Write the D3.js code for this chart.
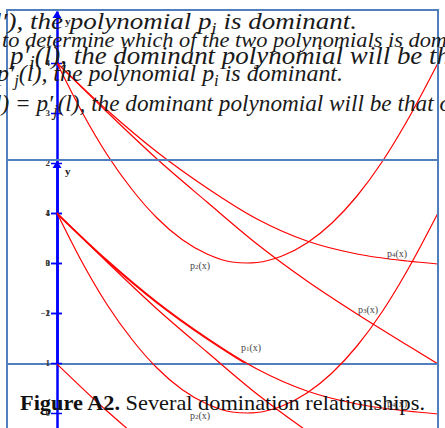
<!DOCTYPE html>
<html>
<head>
<meta charset="utf-8">
<script src="https://cdn.jsdelivr.net/npm/d3@7"></script>
<style>
  body { margin: 0; background: #fff; }
  svg { display: block; }
</style>
</head>
<body>
<script>
// values (x along the curves, y = polynomial value)
const xKnots = [0, 1, 2, 3, 4, 5, 6, 7, 7.62];
const p1Vals = [0.98, 0.04, -0.80, -1.52, -2.14, -2.58, -2.84, -2.98, -3.04];
const p3Vals = [4, 3.02, 2.08, 1.22, 0.38, -0.36, -1.02, -1.64, -2.02];
const p4Vals = [4, 3.06, 2.22, 1.50, 0.88, 0.44, 0.18, 0.04, -0.02];
const p2X = [0, 0.5, 1, 1.5, 2, 2.5, 3, 3.5, 3.8, 4, 4.5, 5, 5.5, 6, 6.5, 7, 7.62];
const p2Vals = [4, 3.02, 2.17, 1.47, 0.90, 0.47, 0.18, 0.02, 0, 0.01, 0.14, 0.40, 0.80, 1.34, 2.02, 2.84, 4.0];

const curveIds = ["1", "2", "3", "4"];
const labelX = [3.88, 2.86, 6.22, 6.8];
const labelY = [-1.76, -0.12, -1.0, 0.12];
const yTicks = [4, 3, 2, 1, 0, -1];

// text lying over the figure (segments: [text, subscript?])
const noteLines = [
  [["l′), the polynomial  p", 0], ["i", 1], ["  is dominant.", 0]],
  [["to determine which of the two polynomials is dom", 0]],
  [["p′", 0], ["i", 1], ["(l), the dominant polynomial will be th", 0]],
  [["p′", 0], ["j", 1], ["(l), the polynomial  p", 0], ["i", 1], ["  is dominant.", 0]],
  [["l) = p′", 0], ["j", 1], ["(l), the dominant polynomial will be that o", 0]]
];
const captionBold = "Figure A2.";
const captionText = " Several domination relationships.";

const W = 445, H = 428;
const svg = d3.select("body").append("svg").attr("width", W).attr("height", H);

const x = d3.scaleLinear().domain([0, 7.62]).range([57, 438]);
const y = d3.scaleLinear().domain([-2.02, 5.04]).range([364, 11]);

const series = [
  xKnots.map((v, i) => [v, p1Vals[i]]),
  p2X.map((v, i) => [v, p2Vals[i]]),
  xKnots.map((v, i) => [v, p3Vals[i]]),
  xKnots.map((v, i) => [v, p4Vals[i]])
];

const line = d3.line()
  .x(d => x(d[0]))
  .y(d => y(d[1]))
  .curve(d3.curveMonotoneX);

// the figure appears twice, the second copy shifted down
function drawPanel(shift, id) {
  const top = 10 + shift;
  svg.append("clipPath").attr("id", "clip" + id)
    .append("rect").attr("x", 7).attr("y", top).attr("width", 431).attr("height", 354);

  const g = svg.append("g").attr("clip-path", "url(#clip" + id + ")")
    .append("g").attr("transform", "translate(0," + shift + ")");

  const axis = g.append("g")
    .attr("transform", "translate(" + x(0) + ",0)")
    .call(d3.axisLeft(y).tickValues(yTicks).tickSizeOuter(0).tickFormat(d3.format("d")));
  axis.select(".domain").attr("stroke", "#0000ff").attr("stroke-width", 2.5);
  axis.selectAll(".tick line").attr("stroke", "#0000ff").attr("stroke-width", 1.5)
    .attr("x1", -6).attr("x2", 5);
  axis.selectAll(".tick text").attr("x", -7)
    .style("font-family", "'Liberation Serif', serif").style("font-size", "9px")
    .style("font-weight", "bold").attr("fill", "#333");

  g.append("path")
    .attr("d", "M" + x(0) + "," + (y.range()[1]) + "l-4.5,7h9z")
    .attr("fill", "#0000ff");
  g.append("text")
    .attr("x", x(0) + 8).attr("y", y.range()[1] + 14)
    .style("font-family", "'Liberation Serif', serif").style("font-size", "11px")
    .style("font-weight", "bold").attr("fill", "#222").text("y");

  g.append("g").selectAll("path").data(series).enter().append("path")
    .attr("d", line)
    .attr("fill", "none")
    .attr("stroke", "#ff0000")
    .attr("stroke-width", 1.2);

  const lab = g.append("g").selectAll("text").data(curveIds).enter().append("text")
    .attr("x", (d, i) => x(labelX[i]))
    .attr("y", (d, i) => y(labelY[i]))
    .attr("text-anchor", "middle")
    .style("font-family", "'Liberation Serif', serif").style("font-size", "10px")
    .attr("fill", "#444");
  lab.append("tspan").text("p");
  lab.append("tspan").style("font-size", "7px").text(d => d);
  lab.append("tspan").text("(x)");

  svg.append("rect")
    .attr("x", 7).attr("y", top).attr("width", 431).attr("height", 354)
    .attr("fill", "none").attr("stroke", "#4f7fbf").attr("stroke-width", 2);
}

drawPanel(0, "A");
drawPanel(150, "B");

// overlapping text lines
const noteLayout = [
  { x: -6, y: 29, len: 363, size: 24 },
  { x: 2, y: 47, len: 445, size: 21 },
  { x: 10, y: 64, len: 440, size: 26 },
  { x: -3, y: 81, len: 346, size: 23 },
  { x: -5, y: 111, len: 456, size: 23 }
];

noteLines.forEach((segs, i) => {
  const L = noteLayout[i];
  const t = svg.append("text")
    .attr("x", L.x).attr("y", L.y)
    .attr("textLength", L.len).attr("lengthAdjust", "spacingAndGlyphs")
    .style("font-family", "'Liberation Serif', serif")
    .style("font-style", "italic").style("font-size", L.size + "px")
    .attr("fill", "#1a1a1a");
  let low = false;
  segs.forEach(s => {
    const ts = t.append("tspan").text(s[0]);
    if (s[1] && !low) { ts.attr("dy", 5).style("font-size", (L.size - 7) + "px"); low = true; }
    else if (!s[1] && low) { ts.attr("dy", -5); low = false; }
  });
});

const cap = svg.append("text")
  .attr("x", 20).attr("y", 410)
  .attr("textLength", 405).attr("lengthAdjust", "spacingAndGlyphs")
  .style("font-family", "'Liberation Serif', serif").style("font-size", "22px")
  .attr("fill", "#111");
cap.append("tspan").style("font-weight", "bold").text(captionBold);
cap.append("tspan").text(captionText);
</script>
</body>
</html>
